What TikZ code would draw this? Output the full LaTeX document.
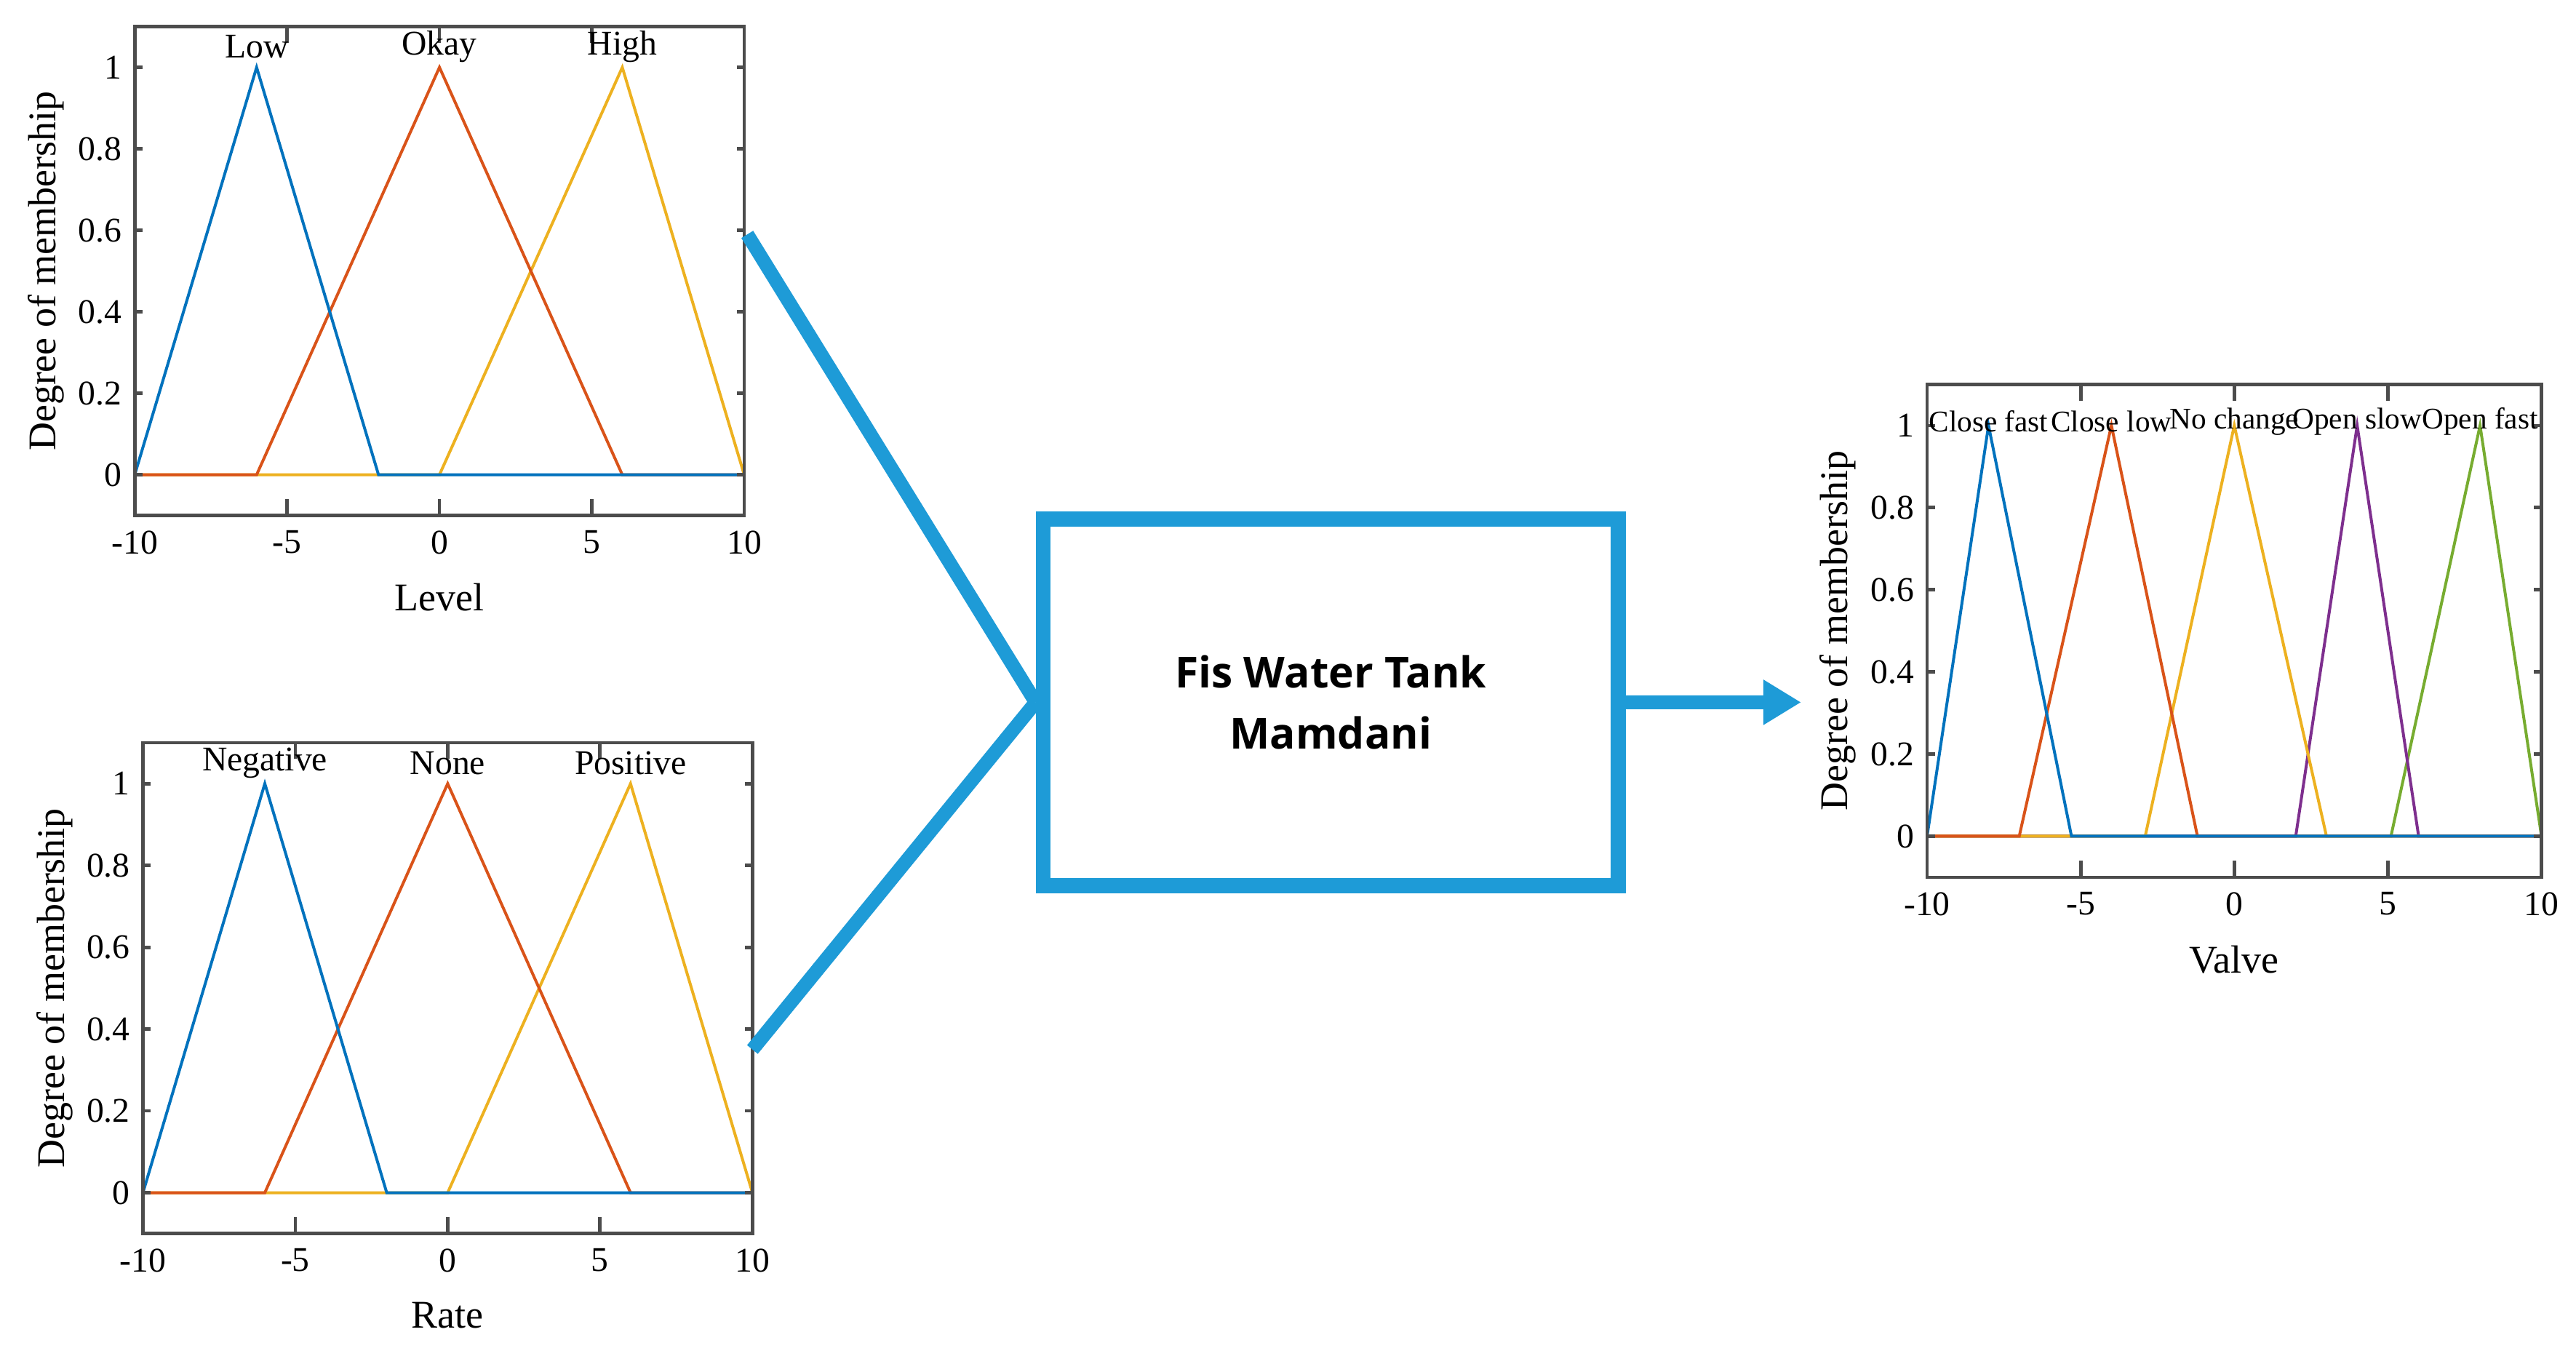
\documentclass[tikz,border=0pt]{standalone}
\usepackage{fontspec}
\setmainfont{Liberation Serif}
\newfontfamily\boxfont{Open Sans}
\usetikzlibrary{arrows.meta}
\definecolor{mfblue}{RGB}{0,114,189}
\definecolor{mforange}{RGB}{217,83,25}
\definecolor{mfyellow}{RGB}{237,177,32}
\definecolor{mfpurple}{RGB}{126,47,142}
\definecolor{mfgreen}{RGB}{119,172,48}
\definecolor{linkblue}{RGB}{30,155,215}
\tikzset{
  axisbox/.style={draw=black!70, line width=0.6pt},
  mf/.style={line width=0.5pt},
  ticklbl/.style={font=\fontsize{6}{7}\selectfont, inner sep=1pt},
  axislbl/.style={font=\fontsize{6.8}{8}\selectfont},
  mflbl/.style={font=\fontsize{6}{7}\selectfont, inner sep=0pt},
  outlbl/.style={font=\fontsize{5.2}{6}\selectfont, inner sep=0pt},
  link/.style={linkblue, line width=2.4pt}
}
% axes frame with ticks, origin at (-10,0), unit x = 1 value, y = 1 membership
\newcommand{\mfaxes}[2]{%
  \draw[axisbox] (-10,-0.1) rectangle (10,1.1);
  \foreach \t in {-5,0,5} {
    \draw[axisbox] (\t,-0.1) -- (\t,-0.06);
    \draw[axisbox] (\t,1.1) -- (\t,1.06);
  }
  \foreach \t in {0,0.2,0.4,0.6,0.8,1} {
    \draw[axisbox] (-10,\t) -- (-9.75,\t);
    \draw[axisbox] (10,\t) -- (9.75,\t);
  }
  \foreach \t in {-10,-5,0,5,10}
    \node[ticklbl, anchor=north] at (\t,-0.12) {\t};
  \foreach \t in {0,0.2,0.4,0.6,0.8,1}
    \node[ticklbl, anchor=east] at (-10.2,\t) {\t};
  \node[axislbl] (#1) at (0,-0.3) {#2};
  \node[axislbl, rotate=90] at (-12.9,0.5) {Degree of membership};
}
\begin{document}
\begin{tikzpicture}[x=0.1mm, y=-0.1mm]
  \useasboundingbox (0,0) rectangle (1568,825);

  % Level input
  \begin{scope}[shift={(267.5,289)}, x=1.855mm, y=24.8mm]
    \draw[mf, mfyellow] (-10,0) -- (0,0) -- (6,1) -- (10,0);
    \draw[mf, mforange] (-10,0) -- (-6,0) -- (0,1) -- (6,0) -- (10,0);
    \draw[mf, mfblue] (-10,0) -- (-6,1) -- (-2,0) -- (10,0);
    \mfaxes{levellbl}{Level}
    \node[mflbl] at (-6,1.05) {Low};
    \node[mflbl] at (0,1.05) {Okay};
    \node[mflbl] at (6,1.05) {High};
    \coordinate (levelout) at (10.1,0.59);
  \end{scope}

  % Rate input
  \begin{scope}[shift={(272.5,726)}, x=1.855mm, y=24.9mm]
    \draw[mf, mfyellow] (-10,0) -- (0,0) -- (6,1) -- (10,0);
    \draw[mf, mforange] (-10,0) -- (-6,0) -- (0,1) -- (6,0) -- (10,0);
    \draw[mf, mfblue] (-10,0) -- (-6,1) -- (-2,0) -- (10,0);
    \mfaxes{ratelbl}{Rate}
    \node[mflbl] at (-6,1.05) {Negative};
    \node[mflbl] at (0,1.05) {None};
    \node[mflbl] at (6,1.05) {Positive};
    \coordinate (rateout) at (10,0.35);
  \end{scope}

  % Valve output
  \begin{scope}[shift={(1360,509)}, x=1.87mm, y=25mm]
    \draw[mf, mfgreen] (-10,0) -- (5.1,0) -- (8,1) -- (10,0);
    \draw[mf, mfpurple] (-10,0) -- (2,0) -- (4,1) -- (6,0) -- (10,0);
    \draw[mf, mfyellow] (-10,0) -- (-2.9,0) -- (0,1) -- (3,0) -- (10,0);
    \draw[mf, mforange] (-10,0) -- (-7,0) -- (-4,1) -- (-1.2,0) -- (10,0);
    \draw[mf, mfblue] (-10,0) -- (-8,1) -- (-5.3,0) -- (10,0);
    \mfaxes{valvelbl}{Valve}
    \node[outlbl] at (-8,1.01) {Close fast};
    \node[outlbl] at (-4,1.01) {Close low};
    \node[outlbl] at (0,1.01) {No change};
    \node[outlbl] at (4,1.01) {Open slow};
    \node[outlbl] at (8,1.01) {Open fast};
    \coordinate (valvein) at (-14.1,0.326);
  \end{scope}

  % Fuzzy inference system
  \node[draw=linkblue, line width=2.6pt, minimum width=35mm, minimum height=22.3mm,
        align=center, font=\boxfont\bfseries\fontsize{7.4}{10.5}\selectfont] (fis) at (810,427.5)
        {Fis Water Tank\\Mamdani};

  % Links
  \draw[link] (levelout) -- (fis.west);
  \draw[link] (rateout) -- (fis.west);
  \draw[link, -{Triangle[length=2.3mm, width=2.6mm]}] (fis.east) -- (valvein);
\end{tikzpicture}
\end{document}
